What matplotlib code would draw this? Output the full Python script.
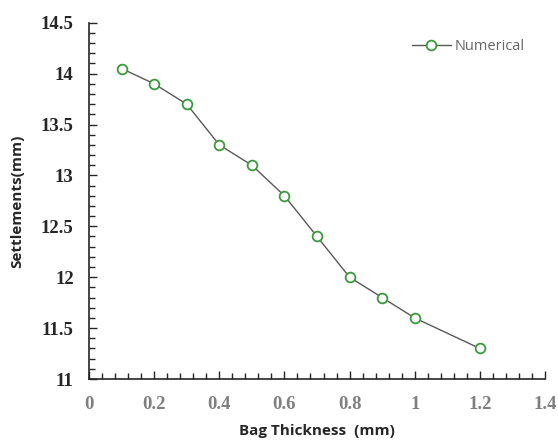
import matplotlib.pyplot as plt
import numpy as np

# bag thickness (mm) vs settlement (mm)
thickness = [0.1, 0.2, 0.3, 0.4, 0.5, 0.6, 0.7, 0.8, 0.9, 1.0, 1.2]
settlement = [14.05, 13.9, 13.7, 13.3, 13.1, 12.8, 12.4, 12.0, 11.8, 11.6, 11.3]

x_ticks = [0, 0.2, 0.4, 0.6, 0.8, 1.0, 1.2, 1.4]
x_labels = ['0', '0.2', '0.4', '0.6', '0.8', '1', '1.2', '1.4']
y_ticks = [11, 11.5, 12, 12.5, 13, 13.5, 14, 14.5]
y_labels = ['11', '11.5', '12', '12.5', '13', '13.5', '14', '14.5']

fig = plt.figure(figsize=(5.58, 4.42), dpi=100)
ax = fig.add_axes([0.1595, 0.1425, 0.8172, 0.8061])

ax.plot(thickness, settlement, color='#595959', lw=1.0, marker='o', ms=7,
        mfc='white', mec='#3a9a3a', mew=1.3, label='Numerical')

ax.set_xlim(0, 1.4)
ax.set_ylim(11, 14.5)
ax.set_xticks(x_ticks, x_labels)
ax.set_yticks(y_ticks, y_labels)
ax.set_xticks(np.arange(0, 1.401, 0.04), minor=True)
ax.set_yticks(np.arange(11, 14.501, 0.1), minor=True)

for s in ['top', 'right']:
    ax.spines[s].set_visible(False)
for s in ['left', 'bottom']:
    ax.spines[s].set_color('#262626')
    ax.spines[s].set_linewidth(1.2)

ax.tick_params(which='both', direction='in', color='#262626', width=1.0)
ax.tick_params(which='major', length=6)
ax.tick_params(which='minor', length=4)
ax.tick_params(axis='y', pad=11)
ax.tick_params(axis='x', pad=12)

for t in ax.get_yticklabels():
    t.set_fontfamily('Liberation Serif')
    t.set_fontweight('bold')
    t.set_fontsize(13.5)
    t.set_color('#262626')
for t in ax.get_xticklabels():
    t.set_fontfamily('Liberation Serif')
    t.set_fontweight('bold')
    t.set_fontsize(13.5)
    t.set_color('#7f7f7f')

ax.set_ylabel('Settlements(mm)', fontfamily='Open Sans', fontweight='bold',
              fontsize=11, color='#262626', labelpad=12)
ax.set_xlabel('Bag Thickness  (mm)', fontfamily='Open Sans', fontweight='bold',
              fontsize=11, color='#262626', labelpad=8)

leg = ax.legend(loc='center right', bbox_to_anchor=(0.956, 0.934), frameon=False,
                prop={'family': 'Open Sans', 'size': 10.5}, handlelength=2.7,
                handletextpad=0.25, borderpad=0, borderaxespad=0)
for t in leg.get_texts():
    t.set_color('#666666')

fig.savefig('out.png', dpi=100)
